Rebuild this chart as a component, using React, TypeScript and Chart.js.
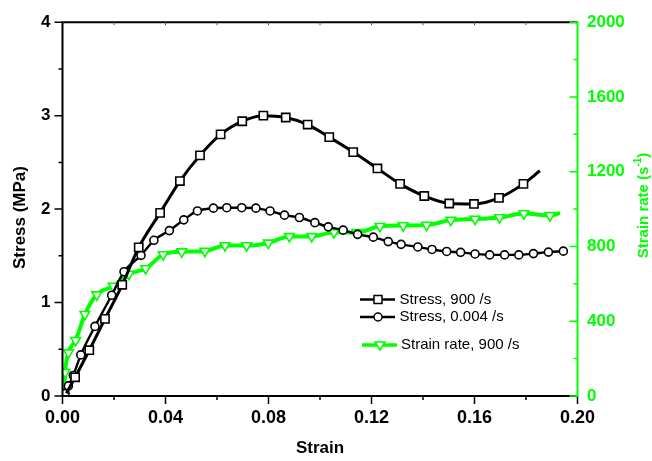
import React, { useEffect, useRef } from "react";
import { Chart, registerables } from "chart.js";

Chart.register(...registerables);

// Stress at 900 /s (squares)
const stress900Strain = [0.0015, 0.0049, 0.0104, 0.0165, 0.0232, 0.0296, 0.0379, 0.0456, 0.0534, 0.0614, 0.0698, 0.078, 0.0867, 0.0952, 0.1036, 0.1129, 0.1223, 0.1311, 0.1405, 0.1502, 0.1598, 0.1695, 0.179, 0.1854];
const stress900Values = [0.03, 0.2, 0.49, 0.825, 1.19, 1.59, 1.96, 2.3, 2.575, 2.8, 2.94, 3.0, 2.98, 2.905, 2.77, 2.61, 2.435, 2.27, 2.14, 2.06, 2.055, 2.12, 2.27, 2.41];

// Stress at 0.004 /s (circles)
const stressQsStrain = [0.001, 0.0023, 0.0042, 0.0071, 0.0126, 0.0191, 0.0239, 0.0305, 0.0355, 0.0415, 0.0471, 0.0524, 0.0586, 0.0638, 0.0696, 0.0751, 0.0806, 0.0862, 0.092, 0.098, 0.1032, 0.109, 0.1146, 0.1207, 0.1265, 0.1315, 0.138, 0.1435, 0.1492, 0.1546, 0.1602, 0.1659, 0.1717, 0.1772, 0.1829, 0.1887, 0.1945];
const stressQsValues = [0.028, 0.108, 0.22, 0.44, 0.745, 1.078, 1.33, 1.505, 1.666, 1.77, 1.885, 1.98, 2.01, 2.015, 2.015, 2.01, 1.98, 1.935, 1.91, 1.855, 1.81, 1.775, 1.73, 1.7, 1.652, 1.623, 1.595, 1.568, 1.547, 1.537, 1.52, 1.51, 1.51, 1.51, 1.524, 1.54, 1.55];

// Strain rate at 900 /s (triangles, right axis)
const rateStrain = [0.0, 0.0006, 0.001, 0.0023, 0.0051, 0.0087, 0.0133, 0.0197, 0.0258, 0.0323, 0.0391, 0.0463, 0.0553, 0.0631, 0.0715, 0.0799, 0.0881, 0.0968, 0.1054, 0.1143, 0.1233, 0.1323, 0.1414, 0.1508, 0.1602, 0.1697, 0.1792, 0.1893, 0.1932];
const rateValues = [0, 25, 127, 232, 298, 437, 542, 588, 652, 682, 757, 772, 775, 805, 805, 819, 854, 854, 875, 875, 908, 912, 915, 941, 947, 955, 976, 966, 979];

const xTicks = [0, 0.04, 0.08, 0.12, 0.16, 0.2];
const xMinorTicks = [0.02, 0.06, 0.1, 0.14, 0.18];
const yTicks = [0, 1, 2, 3, 4];
const yMinorTicks = [0.5, 1.5, 2.5, 3.5];
const y2Ticks = [0, 400, 800, 1200, 1600, 2000];
const y2MinorTicks = [200, 600, 1000, 1400, 1800];

const legendLabels = ["Stress, 900 /s", "Stress, 0.004 /s", "Strain rate, 900 /s"];
const xTitle = "Strain";
const yTitle = "Stress (MPa)";
const y2TitleMain = "Strain rate (s";
const y2TitleSup = "-1";
const y2TitleEnd = ")";

const GREEN = "#00ff00";
const FONT = "'Liberation Sans', Arial, sans-serif";

const toPts = (xs: number[], ys: number[]) => xs.map((x, i) => ({ x, y: ys[i] }));

const decorPlugin = {
  id: "decor",
  afterDraw(chart: any) {
    const { ctx, chartArea } = chart;
    const { left, right, top, bottom } = chartArea;
    const xs = chart.scales.x;
    const ys = chart.scales.y;
    const y2s = chart.scales.y2;
    ctx.save();
    ctx.lineCap = "butt";
    // axes lines
    ctx.strokeStyle = "#000";
    ctx.lineWidth = 2;
    ctx.beginPath();
    ctx.moveTo(left, top);
    ctx.lineTo(right, top);
    ctx.moveTo(left, top - 1);
    ctx.lineTo(left, bottom + 1);
    ctx.moveTo(left - 1, bottom);
    ctx.lineTo(right, bottom);
    ctx.stroke();
    // left ticks (outward)
    ctx.lineWidth = 1.5;
    ctx.beginPath();
    yTicks.forEach((v) => {
      const p = ys.getPixelForValue(v);
      ctx.moveTo(left, p);
      ctx.lineTo(left - 8, p);
    });
    yMinorTicks.forEach((v) => {
      const p = ys.getPixelForValue(v);
      ctx.moveTo(left, p);
      ctx.lineTo(left - 4, p);
    });
    // bottom ticks (outward)
    xTicks.forEach((v) => {
      const p = xs.getPixelForValue(v);
      ctx.moveTo(p, bottom);
      ctx.lineTo(p, bottom + 8);
    });
    xMinorTicks.forEach((v) => {
      const p = xs.getPixelForValue(v);
      ctx.moveTo(p, bottom);
      ctx.lineTo(p, bottom + 4);
    });
    ctx.stroke();
    // top ticks (inward, small)
    ctx.lineWidth = 1;
    ctx.strokeStyle = "#555";
    ctx.beginPath();
    [...xTicks, ...xMinorTicks].forEach((v) => {
      const p = xs.getPixelForValue(v);
      if (p > left + 2 && p < right - 2) {
        ctx.moveTo(p, top);
        ctx.lineTo(p, top + 3);
      }
    });
    ctx.stroke();
    // right axis (green)
    ctx.strokeStyle = GREEN;
    ctx.lineWidth = 2;
    ctx.beginPath();
    ctx.moveTo(right, top - 1);
    ctx.lineTo(right, bottom + 1);
    ctx.stroke();
    ctx.lineWidth = 1.5;
    ctx.beginPath();
    y2Ticks.forEach((v) => {
      const p = y2s.getPixelForValue(v);
      ctx.moveTo(right, p);
      ctx.lineTo(right - 8, p);
    });
    y2MinorTicks.forEach((v) => {
      const p = y2s.getPixelForValue(v);
      ctx.moveTo(right, p);
      ctx.lineTo(right - 4, p);
    });
    ctx.stroke();

    // titles
    ctx.fillStyle = "#000";
    ctx.font = `bold 17px ${FONT}`;
    ctx.textAlign = "center";
    ctx.textBaseline = "middle";
    ctx.fillText(xTitle, (left + right) / 2, 448);
    ctx.save();
    ctx.translate(20, 217.5);
    ctx.rotate(-Math.PI / 2);
    ctx.fillText(yTitle, 0, 0);
    ctx.restore();

    ctx.save();
    ctx.translate(644, 205.5);
    ctx.rotate(-Math.PI / 2);
    ctx.fillStyle = GREEN;
    ctx.textAlign = "left";
    ctx.font = `bold 15px ${FONT}`;
    const w1 = ctx.measureText(y2TitleMain).width;
    const w3 = ctx.measureText(y2TitleEnd).width;
    ctx.font = `bold 10px ${FONT}`;
    const w2 = ctx.measureText(y2TitleSup).width;
    const total = w1 + w2 + w3;
    let cx = -total / 2;
    ctx.font = `bold 15px ${FONT}`;
    ctx.fillText(y2TitleMain, cx, 0);
    cx += w1;
    ctx.font = `bold 10px ${FONT}`;
    ctx.fillText(y2TitleSup, cx, -6);
    cx += w2;
    ctx.font = `bold 15px ${FONT}`;
    ctx.fillText(y2TitleEnd, cx, 0);
    ctx.restore();

    // legend
    const lx1 = 360;
    const lx2 = 395;
    const rows = [299.5, 317, 345];
    ctx.lineWidth = 2.5;
    ctx.strokeStyle = "#000";
    ctx.beginPath();
    ctx.moveTo(lx1, rows[0]);
    ctx.lineTo(lx2, rows[0]);
    ctx.moveTo(lx1, rows[1]);
    ctx.lineTo(lx2, rows[1]);
    ctx.stroke();
    ctx.lineWidth = 1.5;
    ctx.fillStyle = "#fff";
    ctx.beginPath();
    ctx.rect(378 - 4, rows[0] - 4, 8, 8);
    ctx.fill();
    ctx.stroke();
    ctx.beginPath();
    ctx.arc(378, rows[1], 4, 0, Math.PI * 2);
    ctx.fill();
    ctx.stroke();
    ctx.strokeStyle = GREEN;
    ctx.lineWidth = 3.5;
    ctx.beginPath();
    ctx.moveTo(lx1 + 2, rows[2]);
    ctx.lineTo(lx2 + 2, rows[2]);
    ctx.stroke();
    ctx.lineWidth = 1.6;
    ctx.beginPath();
    ctx.moveTo(380 - 5, rows[2] - 3);
    ctx.lineTo(380 + 5, rows[2] - 3);
    ctx.lineTo(380, rows[2] + 5);
    ctx.closePath();
    ctx.fill();
    ctx.stroke();
    ctx.fillStyle = "#000";
    ctx.font = `15px ${FONT}`;
    ctx.textAlign = "left";
    ctx.textBaseline = "middle";
    ctx.fillText(legendLabels[0], 399.5, rows[0]);
    ctx.fillText(legendLabels[1], 399.5, rows[1]);
    ctx.fillText(legendLabels[2], 401, rows[2]);
    ctx.restore();
  },
};

export default function App() {
  const ref = useRef<HTMLCanvasElement>(null);
  useEffect(() => {
    if (!ref.current) return;
    const last = (arr: number[]) => arr.length - 1;
    const chart = new Chart(ref.current, {
      type: "line",
      data: {
        datasets: [
          {
            label: legendLabels[0],
            data: toPts(stress900Strain, stress900Values),
            yAxisID: "y",
            borderColor: "#000",
            borderWidth: 3,
            backgroundColor: "#fff",
            pointStyle: "rect",
            pointRadius: (c: any) => (c.dataIndex === 0 || c.dataIndex === last(stress900Strain) ? 0 : 5.8),
            pointBorderWidth: 1.6,
            pointBorderColor: "#000",
            pointBackgroundColor: "#fff",
            cubicInterpolationMode: "monotone",
            fill: false,
          },
          {
            label: legendLabels[1],
            data: toPts(stressQsStrain, stressQsValues),
            yAxisID: "y",
            borderColor: "#000",
            borderWidth: 2.4,
            backgroundColor: "#fff",
            pointStyle: "circle",
            pointRadius: 4,
            pointBorderWidth: 1.6,
            pointBorderColor: "#000",
            pointBackgroundColor: "#fff",
            cubicInterpolationMode: "monotone",
            fill: false,
          },
          {
            label: legendLabels[2],
            data: toPts(rateStrain, rateValues),
            yAxisID: "y2",
            borderColor: GREEN,
            borderWidth: 4,
            backgroundColor: "#fff",
            pointStyle: "triangle",
            rotation: 180,
            pointRadius: (c: any) => (c.dataIndex === 0 || c.dataIndex === last(rateStrain) ? 0 : 5.6),
            pointBorderWidth: 1.6,
            pointBorderColor: GREEN,
            pointBackgroundColor: "#fff",
            cubicInterpolationMode: "monotone",
            fill: false,
          },
        ] as any,
      },
      options: {
        responsive: false,
        devicePixelRatio: 1,
        animation: false,
        layout: { padding: { top: 15, left: 0, right: 0, bottom: 0 } },
        plugins: { legend: { display: false }, tooltip: { enabled: false }, title: { display: false } },
        scales: {
          x: {
            type: "linear",
            min: 0,
            max: 0.2,
            grid: { display: false, drawTicks: false },
            border: { display: false },
            ticks: {
              stepSize: 0.04,
              padding: 11,
              color: "#000",
              font: { family: FONT, size: 18, weight: "bold" },
              callback: (v: any) => Number(v).toFixed(2),
              maxRotation: 0,
            },
            afterFit: (s: any) => {
              s.height = 65;
            },
          },
          y: {
            type: "linear",
            position: "left",
            min: 0,
            max: 4,
            grid: { display: false, drawTicks: false },
            border: { display: false },
            ticks: {
              stepSize: 1,
              padding: 12,
              color: "#000",
              font: { family: FONT, size: 17, weight: "bold" },
              callback: (v: any) => String(Math.round(Number(v))),
            },
            afterFit: (s: any) => {
              s.width = 62.5;
            },
          },
          y2: {
            type: "linear",
            position: "right",
            min: 0,
            max: 2000,
            grid: { display: false, drawTicks: false },
            border: { display: false },
            ticks: {
              stepSize: 400,
              padding: 9.5,
              color: GREEN,
              font: { family: FONT, size: 17, weight: "bold" },
              callback: (v: any) => String(Math.round(Number(v))),
            },
            afterFit: (s: any) => {
              s.width = 74.5;
            },
          },
        },
      } as any,
      plugins: [decorPlugin],
    });
    return () => chart.destroy();
  }, []);
  return (
    <div style={{ position: "absolute", left: 0, top: 0, width: 652, height: 461, background: "#fff" }}>
      <canvas ref={ref} width={652} height={461} style={{ display: "block", width: 652, height: 461 }} />
    </div>
  );
}
